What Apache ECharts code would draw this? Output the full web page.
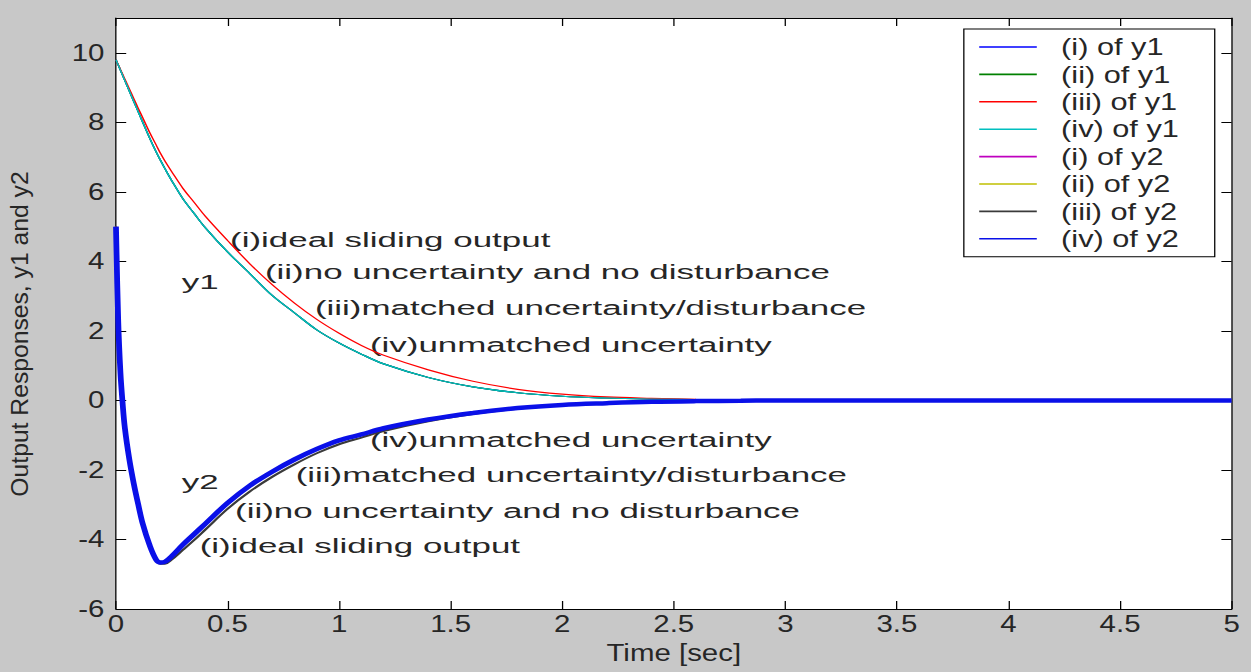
<!DOCTYPE html>
<html>
<head>
<meta charset="utf-8">
<script src="https://cdn.jsdelivr.net/npm/echarts@6/dist/echarts.min.js"></script>
<style>
html,body{margin:0;padding:0;background:#c8c8c8;overflow:hidden;width:1251px;height:672px;}
#wrap{width:977.34px;height:672px;transform:scaleX(1.28);transform-origin:0 0;}
</style>
</head>
<body>
<div id="wrap"></div>
<script>
// time axis samples (sec)
const time = [0, 0.01, 0.02, 0.03, 0.04, 0.06, 0.08, 0.1, 0.12, 0.15, 0.18, 0.2, 0.22, 0.25, 0.3, 0.35, 0.4, 0.5, 0.6, 0.7, 0.8, 0.9, 1.0, 1.1, 1.2, 1.4, 1.6, 1.8, 2.0, 2.2, 2.4, 2.6, 2.8, 3.0, 3.5, 4.0, 4.5, 5.0];

// y1 responses
const y1_i   = [9.8, 9.65, 9.5, 9.35, 9.2, 8.9, 8.6, 8.3, 8.0, 7.56, 7.15, 6.9, 6.66, 6.32, 5.8, 5.38, 4.97, 4.27, 3.65, 3.02, 2.52, 2.03, 1.65, 1.33, 1.05, 0.66, 0.39, 0.22, 0.12, 0.07, 0.04, 0.02, 0.01, 0, 0, 0, 0, 0];
const y1_ii  = [9.8, 9.65, 9.5, 9.35, 9.2, 8.9, 8.6, 8.3, 8.0, 7.56, 7.15, 6.9, 6.66, 6.32, 5.8, 5.38, 4.97, 4.27, 3.65, 3.02, 2.52, 2.03, 1.65, 1.33, 1.05, 0.66, 0.39, 0.22, 0.12, 0.07, 0.04, 0.02, 0.01, 0, 0, 0, 0, 0];
const y1_iii = [9.8, 9.66, 9.52, 9.38, 9.24, 8.96, 8.68, 8.4, 8.13, 7.72, 7.35, 7.1, 6.88, 6.58, 6.1, 5.7, 5.3, 4.6, 3.93, 3.33, 2.8, 2.33, 1.93, 1.58, 1.3, 0.88, 0.55, 0.32, 0.18, 0.1, 0.06, 0.03, 0.01, 0, 0, 0, 0, 0];
const y1_iv  = [9.8, 9.65, 9.5, 9.35, 9.2, 8.9, 8.6, 8.3, 8.0, 7.56, 7.15, 6.9, 6.66, 6.32, 5.8, 5.38, 4.97, 4.27, 3.65, 3.02, 2.52, 2.03, 1.65, 1.33, 1.05, 0.66, 0.39, 0.22, 0.12, 0.07, 0.04, 0.02, 0.01, 0, 0, 0, 0, 0];

// y2 responses
const y2_i   = [5.0, 2.3, 0.8, -0.1, -0.8, -1.7, -2.4, -3.0, -3.55, -4.15, -4.58, -4.66, -4.64, -4.48, -4.15, -3.85, -3.55, -2.95, -2.45, -2.05, -1.7, -1.4, -1.15, -0.98, -0.8, -0.55, -0.36, -0.22, -0.13, -0.08, -0.04, -0.02, -0.01, 0, 0, 0, 0, 0];
const y2_ii  = [5.0, 2.3, 0.8, -0.1, -0.8, -1.7, -2.4, -3.0, -3.55, -4.15, -4.58, -4.66, -4.64, -4.48, -4.15, -3.85, -3.55, -2.95, -2.45, -2.05, -1.7, -1.4, -1.15, -0.98, -0.8, -0.55, -0.36, -0.22, -0.13, -0.08, -0.04, -0.02, -0.01, 0, 0, 0, 0, 0];
const y2_iii = [5.0, 2.3, 0.8, -0.1, -0.8, -1.7, -2.4, -3.0, -3.55, -4.15, -4.6, -4.7, -4.7, -4.58, -4.3, -4.02, -3.72, -3.12, -2.62, -2.2, -1.84, -1.52, -1.26, -1.07, -0.88, -0.6, -0.39, -0.24, -0.14, -0.08, -0.05, -0.02, -0.01, 0, 0, 0, 0, 0];
const y2_iv  = [5.0, 2.3, 0.8, -0.1, -0.8, -1.7, -2.4, -3.0, -3.55, -4.15, -4.58, -4.66, -4.64, -4.48, -4.15, -3.85, -3.55, -2.95, -2.45, -2.05, -1.7, -1.4, -1.15, -0.98, -0.8, -0.55, -0.36, -0.22, -0.13, -0.08, -0.04, -0.02, -0.01, 0, 0, 0, 0, 0];

const seriesNames = ['(i) of y1', '(ii) of y1', '(iii) of y1', '(iv) of y1', '(i) of y2', '(ii) of y2', '(iii) of y2', '(iv) of y2'];
const seriesData = [y1_i, y1_ii, y1_iii, y1_iv, y2_i, y2_ii, y2_iii, y2_iv];
const seriesColors = ['#0000ff', '#008000', '#ff0000', '#00bfbf', '#bf00bf', '#bfbf00', '#3a3a3a', '#0a10e8'];
const seriesWidths = [1.2, 1.2, 1.2, 1.2, 1.2, 1.2, 2, 4.5];

// annotation texts
const y1Notes = ['(i)ideal sliding output', '(ii)no uncertainty and no disturbance', '(iii)matched uncertainty/disturbance', '(iv)unmatched uncertainty'];
const y2Notes = ['(iv)unmatched uncertainty', '(iii)matched uncertainty/disturbance', '(ii)no uncertainty and no disturbance', '(i)ideal sliding output'];

const FONT = '"Liberation Sans", Arial, sans-serif';
const TXT = '#262626';

const chart = echarts.init(document.getElementById('wrap'), null, {renderer: 'svg'});

function note(text, x, y) {
  return {
    type: 'text', x: x, y: y, scaleX: 1.3, silent: true,
    style: {text: text, fontFamily: FONT, fontSize: 21, fill: TXT, align: 'left', verticalAlign: 'middle'}
  };
}

const noteY1Pos = [[179.7, 240], [207, 272], [246, 308], [289, 345]];
const noteY2Pos = [[289, 440], [231, 475], [183.6, 511], [156, 546]];

const graphics = [];
y1Notes.forEach((t, i) => graphics.push(note(t, noteY1Pos[i][0], noteY1Pos[i][1])));
y2Notes.forEach((t, i) => graphics.push(note(t, noteY2Pos[i][0], noteY2Pos[i][1])));
graphics.push(note('y1', 142, 282));
graphics.push(note('y2', 142, 482));
graphics.push({
  type: 'text', x: 15.6, y: 334, rotation: Math.PI / 2, scaleX: 1.3, silent: true,
  style: {text: 'Output Responses, y1 and y2', fontFamily: FONT, fontSize: 19, fill: TXT, align: 'center', verticalAlign: 'middle'}
});

const axisCommon = {
  axisLine: {show: true, onZero: false, lineStyle: {color: '#000', width: 1}},
  axisTick: {show: true, inside: true, length: 8, lineStyle: {color: '#000', width: 1}},
  splitLine: {show: false}
};

const option = {
  backgroundColor: '#c8c8c8',
  animation: false,
  textStyle: {fontFamily: FONT},
  grid: {left: 90.6, right: 14.8, top: 18, bottom: 63, show: true, backgroundColor: '#ffffff', borderWidth: 0},
  legend: {
    orient: 'vertical', left: 753, top: 29,
    backgroundColor: '#ffffff', borderColor: '#000', borderWidth: 1, borderRadius: 0,
    padding: [6, 28, 6, 12],
    icon: 'rect',
    itemWidth: 45, itemHeight: 1.6, itemGap: 3.4,
    textStyle: {fontFamily: FONT, fontSize: 24, color: TXT, lineHeight: 24, padding: [0, 0, 0, 14]},
    data: seriesNames
  },
  xAxis: [
    Object.assign({}, axisCommon, {
      type: 'value', min: 0, max: 5, interval: 0.5, position: 'bottom',
      name: 'Time [sec]', nameLocation: 'middle', nameGap: 33,
      nameTextStyle: {fontFamily: FONT, fontSize: 23, color: TXT},
      axisLabel: {fontFamily: FONT, fontSize: 23, color: TXT, margin: 4}
    }),
    Object.assign({}, axisCommon, {
      type: 'value', min: 0, max: 5, interval: 0.5, position: 'top',
      axisLabel: {show: false}
    })
  ],
  yAxis: [
    Object.assign({}, axisCommon, {
      type: 'value', min: -6, max: 11, interval: 2, position: 'left',
      axisLabel: {fontFamily: FONT, fontSize: 23, color: TXT, margin: 9, showMaxLabel: false,
        formatter: v => (v > 10 ? '' : String(v))}
    }),
    Object.assign({}, axisCommon, {
      type: 'value', min: -6, max: 11, interval: 2, position: 'right',
      axisLabel: {show: false}
    })
  ],
  graphic: graphics,
  series: seriesNames.map((name, k) => ({
    name: name,
    type: 'line',
    xAxisIndex: 0, yAxisIndex: 0,
    data: time.map((t, i) => [t, seriesData[k][i]]),
    symbol: 'none',
    smooth: 0.35,
    color: seriesColors[k],
    lineStyle: {color: seriesColors[k], width: seriesWidths[k]},
    z: 2 + k
  }))
};

chart.setOption(option);
</script>
</body>
</html>
